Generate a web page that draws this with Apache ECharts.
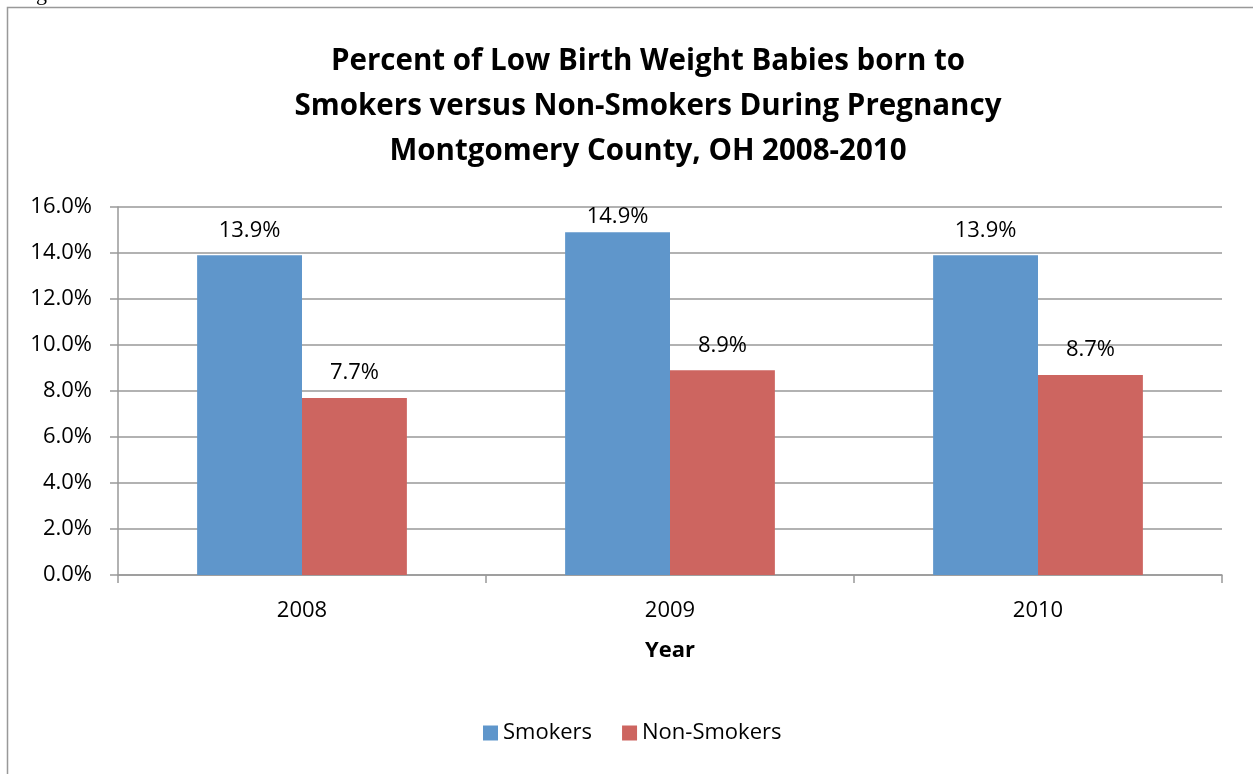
<!DOCTYPE html>
<html><head><meta charset="utf-8">
<script src="https://cdn.jsdelivr.net/npm/echarts@6/dist/echarts.min.js"></script>
<style>html,body{margin:0;padding:0;background:#fff;}#c{width:1253px;height:774px;}</style>
</head><body><div id="c"></div>
<script>
const categories = ['2008', '2009', '2010'];
const smokers = [13.9, 14.9, 13.9];
const nonSmokers = [7.7, 8.9, 8.7];
const yTicks = [0, 2, 4, 6, 8, 10, 12, 14, 16];

const FONT = 'Open Sans';
const FS = 22;
const yMax = yTicks[yTicks.length - 1];
// Excel keeps the data label inside the chart: labels of bars near the top are pushed down
const labelled = arr => arr.map(v => ({value: v, label: {distance: v > yMax - 1.5 ? 5 : 14}}));
const fmt = p => p.value.toFixed(1) + '%';

const chart = echarts.init(document.getElementById('c'), null, {renderer: 'canvas'});
chart.setOption({
  animation: false,
  backgroundColor: '#fff',
  textStyle: {fontFamily: FONT},
  graphic: [
    {type: 'rect', shape: {x: 7.5, y: 7.5, width: 1260, height: 800}, style: {fill: 'none', stroke: '#999', lineWidth: 1.5}, silent: true},
    {type: 'text', left: 36, top: -17, style: {text: 'g', font: '22px "Liberation Serif"', fill: '#000'}}
  ],
  title: {
    text: 'Percent of Low Birth Weight Babies born to\nSmokers versus Non-Smokers During Pregnancy\nMontgomery County, OH 2008-2010',
    left: 643, textAlign: 'center', top: 34,
    textStyle: {fontFamily: FONT, fontWeight: 'bold', fontSize: 29.5, lineHeight: 45, color: '#000'}
  },
  legend: {
    top: 722, left: 483, padding: 0,
    itemWidth: 15, itemHeight: 15, itemGap: 30,
    icon: 'rect',
    textStyle: {fontFamily: FONT, fontSize: FS, color: '#000'},
    data: ['Smokers', 'Non-Smokers']
  },
  grid: {left: 118, right: 31, top: 207, bottom: 199, containLabel: false},
  xAxis: {
    type: 'category', data: categories,
    name: 'Year', nameLocation: 'middle', nameGap: 65,
    nameTextStyle: {fontFamily: FONT, fontWeight: 'bold', fontSize: FS, color: '#000'},
    axisLine: {lineStyle: {color: '#999', width: 1.5}},
    axisTick: {show: true, length: 8, lineStyle: {color: '#999', width: 1.5}},
    axisLabel: {fontFamily: FONT, fontSize: FS, color: '#000', margin: 25}
  },
  yAxis: {
    type: 'value', min: yTicks[0], max: yMax, interval: 2,
    axisLine: {show: true, lineStyle: {color: '#999', width: 1.5}},
    axisTick: {show: true, length: 8, lineStyle: {color: '#999', width: 1.5}},
    splitLine: {lineStyle: {color: '#999', width: 1.5}},
    axisLabel: {fontFamily: FONT, fontSize: FS, color: '#000', margin: 26, formatter: v => v.toFixed(1) + '%'}
  },
  series: [
    {name: 'Smokers', type: 'bar', data: labelled(smokers), barGap: '0%', barCategoryGap: '43%',
     itemStyle: {color: '#5F96CB'},
     label: {show: true, position: 'top', fontFamily: FONT, fontSize: FS, color: '#000', formatter: fmt}},
    {name: 'Non-Smokers', type: 'bar', data: labelled(nonSmokers), barGap: '0%', barCategoryGap: '43%',
     itemStyle: {color: '#CD6560'},
     label: {show: true, position: 'top', fontFamily: FONT, fontSize: FS, color: '#000', formatter: fmt}}
  ]
});
</script></body></html>
